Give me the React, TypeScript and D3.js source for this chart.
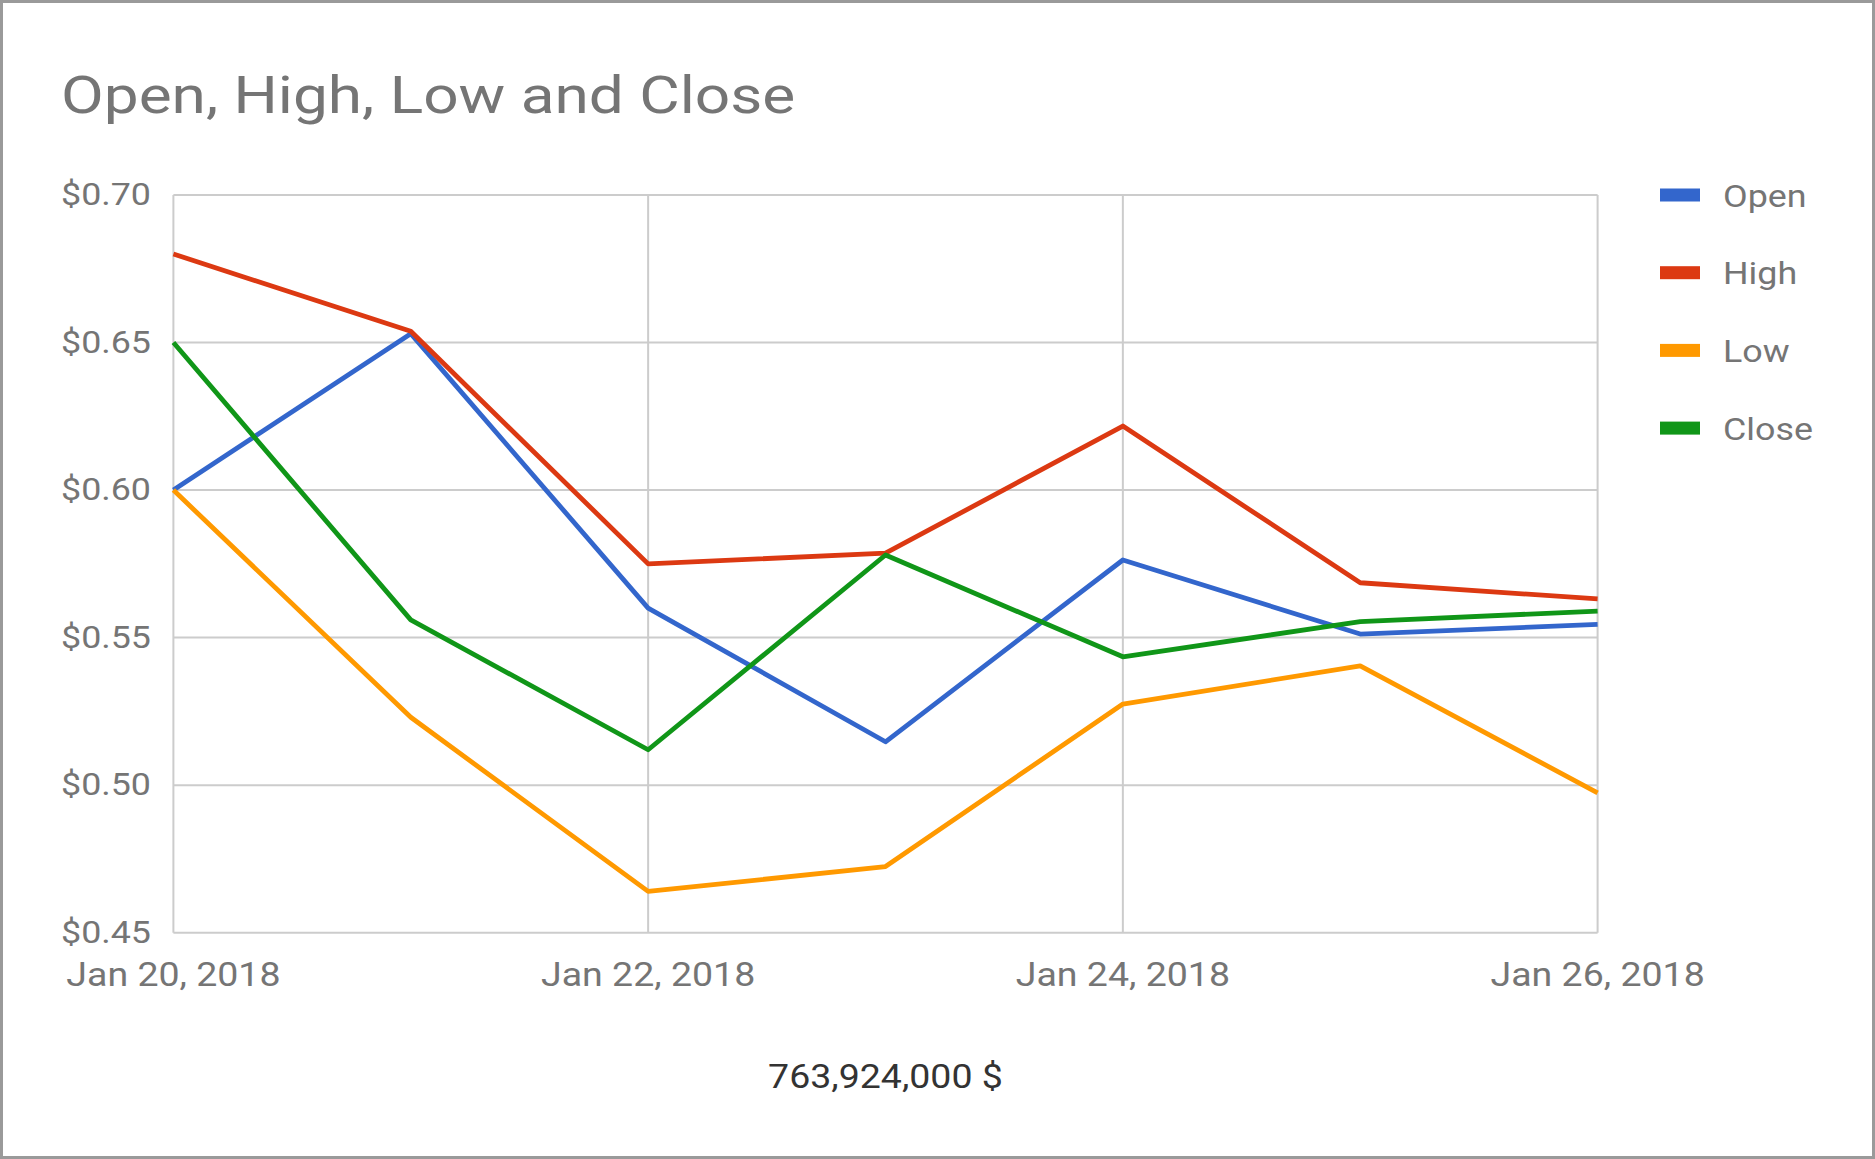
import React from "react";
import * as d3 from "d3";

const dates = ["2018-01-20", "2018-01-21", "2018-01-22", "2018-01-23", "2018-01-24", "2018-01-25", "2018-01-26"];
const openValues = [0.6, 0.653, 0.56, 0.5147, 0.5763, 0.5512, 0.5545];
const highValues = [0.68, 0.6538, 0.575, 0.5786, 0.6217, 0.5686, 0.5631];
const lowValues = [0.6, 0.523, 0.464, 0.4724, 0.5275, 0.5404, 0.4974];
const closeValues = [0.65, 0.556, 0.512, 0.578, 0.5435, 0.5554, 0.559];
const seriesNames = ["Open", "High", "Low", "Close"];
const seriesColors = ["#3366cc", "#dc3912", "#ff9900", "#109618"];
const yTicks = [0.45, 0.5, 0.55, 0.6, 0.65, 0.7];
const xTickDates = ["2018-01-20", "2018-01-22", "2018-01-24", "2018-01-26"];
const titleText = "Open, High, Low and Close";
const subtitleText = "763,924,000 $";

const W = 1875;
const H = 1159;
const plot = { left: 173.4, right: 1597.6, top: 195, bottom: 932.7 };
const FONT = "Roboto, 'Noto Sans', sans-serif";
const SX = 1.12;

export default function App() {
  const parse = d3.timeParse("%Y-%m-%d");
  const xDates = dates.map((d) => parse(d) as Date);
  const x = d3.scaleTime().domain([xDates[0], xDates[xDates.length - 1]]).range([plot.left, plot.right]);
  const y = d3.scaleLinear().domain([0.45, 0.7]).range([plot.bottom, plot.top]);
  const fmtDate = d3.timeFormat("%b %-d, %Y");
  const fmtY = (v: number) => "$" + d3.format(".2f")(v);
  const allSeries = [openValues, highValues, lowValues, closeValues];
  const line = d3
    .line<number>()
    .x((_, i) => x(xDates[i]))
    .y((v) => y(v));

  const legendTop = 195;
  const legendStep = 77.7;

  return (
    <svg width={W} height={H} style={{ position: "absolute", left: 0, top: 0, background: "#fff" }}>
      <rect x={0} y={0} width={W} height={H} fill="#ffffff" />
      <rect x={1.5} y={1.5} width={W - 3} height={H - 3} fill="none" stroke="#9a9a9a" strokeWidth={3} />
      <text
        transform={`translate(61,113) scale(1.195,1)`}
        fontFamily={FONT}
        fontSize={52}
        fill="#757575"
      >
        {titleText}
      </text>
      {/* horizontal gridlines */}
      {yTicks.map((t) => (
        <line key={"h" + t} x1={plot.left} x2={plot.right} y1={y(t)} y2={y(t)} stroke="#cccccc" strokeWidth={2} />
      ))}
      {/* vertical gridlines */}
      {xTickDates.map((d) => {
        const xv = x(parse(d) as Date);
        return <line key={"v" + d} x1={xv} x2={xv} y1={plot.top} y2={plot.bottom} stroke="#cccccc" strokeWidth={2} />;
      })}
      {/* y labels */}
      {yTicks.map((t) => (
        <text
          key={"yl" + t}
          transform={`translate(151,${y(t) + 10}) scale(${SX},1)`}
          textAnchor="end"
          fontFamily={FONT}
          fontSize={32}
          fill="#757575"
        >
          {fmtY(t)}
        </text>
      ))}
      {/* x labels */}
      {xTickDates.map((d) => {
        const dt = parse(d) as Date;
        return (
          <text
            key={"xl" + d}
            transform={`translate(${x(dt)},986) scale(${SX},1)`}
            textAnchor="middle"
            fontFamily={FONT}
            fontSize={33.5}
            fill="#757575"
          >
            {fmtDate(dt)}
          </text>
        );
      })}
      {/* lines */}
      {allSeries.map((s, i) => (
        <path
          key={"s" + i}
          d={line(s) || ""}
          fill="none"
          stroke={seriesColors[i]}
          strokeWidth={4.8}
          strokeLinejoin="round"
        />
      ))}
      {/* legend */}
      {seriesNames.map((n, i) => {
        const cy = legendTop + i * legendStep;
        return (
          <g key={"lg" + n}>
            <rect x={1660} y={cy - 6.5} width={40} height={13} fill={seriesColors[i]} />
            <text
              transform={`translate(1723,${cy + 11.5}) scale(${SX},1)`}
              fontFamily={FONT}
              fontSize={32}
              fill="#757575"
            >
              {n}
            </text>
          </g>
        );
      })}
      <text
        transform={`translate(${(plot.left + plot.right) / 2},1088) scale(${SX},1)`}
        textAnchor="middle"
        fontFamily={FONT}
        fontSize={33.5}
        fill="#333333"
      >
        {subtitleText}
      </text>
    </svg>
  );
}
